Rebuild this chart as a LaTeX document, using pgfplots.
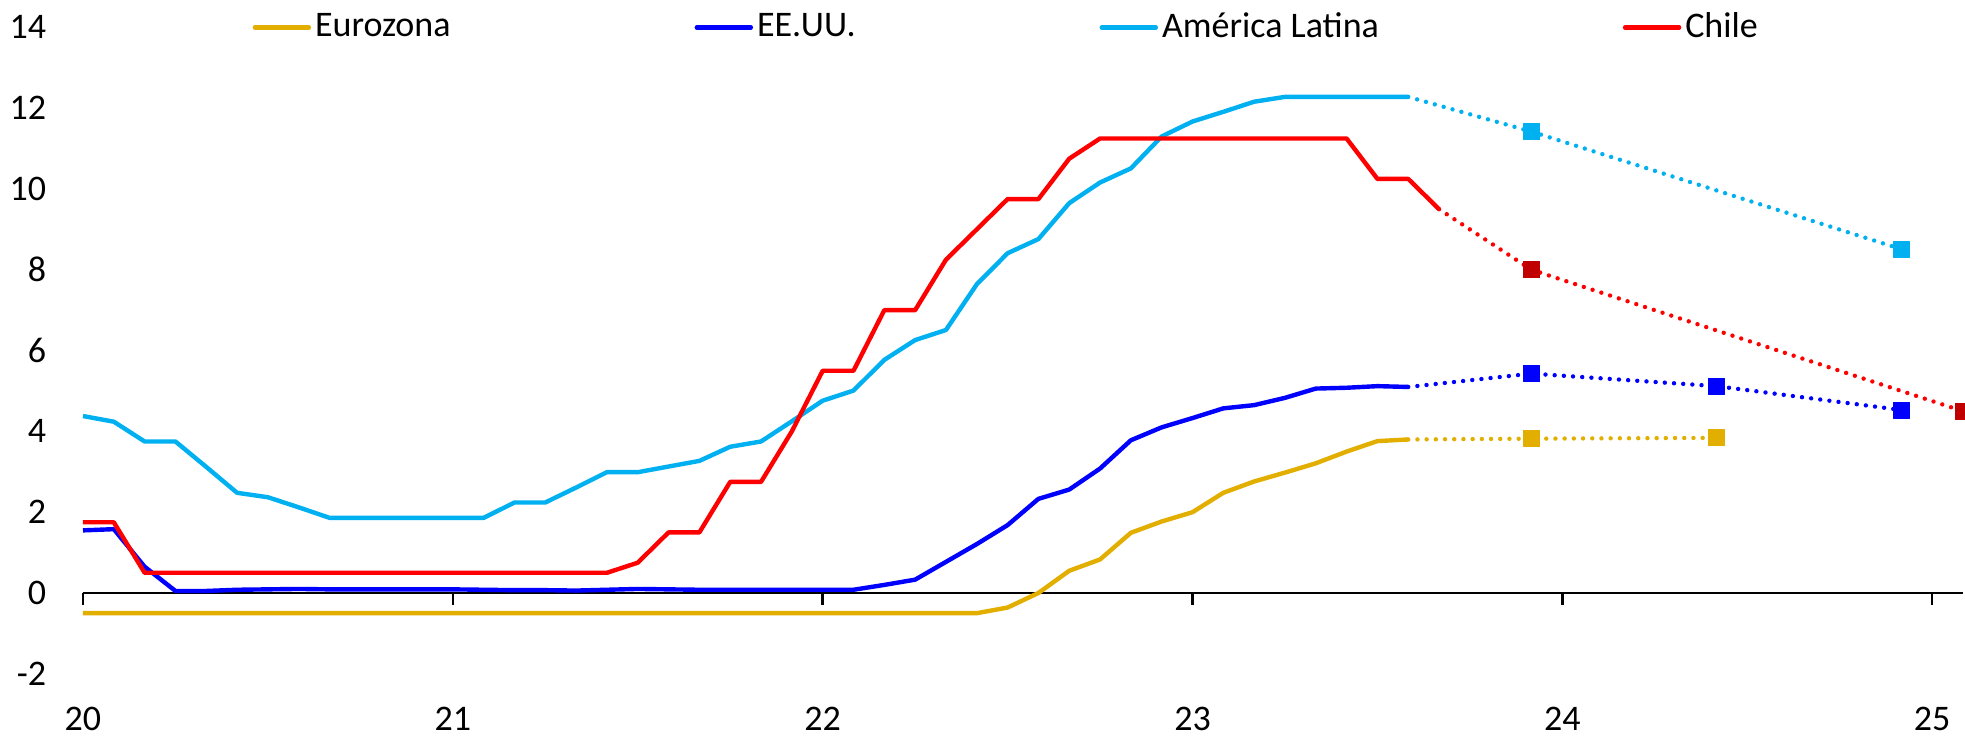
\documentclass[border=0pt]{standalone}
\usepackage{pgfplots}
\pgfplotsset{compat=1.18}
\usepackage{fontspec}
\setmainfont{Carlito}

\definecolor{euro}{RGB}{226,174,0}
\definecolor{usa}{RGB}{0,0,255}
\definecolor{latam}{RGB}{0,176,240}
\definecolor{chile}{RGB}{255,0,0}
\definecolor{chilemk}{RGB}{192,0,0}

% Monthly policy rates (x = months since Jan 2020)
\pgfplotstableread{
k v
0 -0.5
29 -0.5
30 -0.36
31 0.0
32 0.55
33 0.83
34 1.49
35 1.77
36 2.0
37 2.48
38 2.76
39 2.98
40 3.21
41 3.5
42 3.76
43 3.8
}\euro
\pgfplotstableread{
k v
0 1.55
1 1.58
2 0.65
3 0.05
4 0.05
5 0.08
6 0.09
7 0.10
8 0.09
9 0.09
10 0.09
11 0.09
12 0.09
13 0.08
14 0.07
15 0.07
16 0.06
17 0.08
18 0.10
19 0.09
20 0.08
21 0.08
22 0.08
23 0.08
24 0.08
25 0.08
26 0.20
27 0.33
28 0.77
29 1.21
30 1.68
31 2.33
32 2.56
33 3.08
34 3.78
35 4.10
36 4.33
37 4.57
38 4.65
39 4.83
40 5.06
41 5.08
42 5.12
43 5.10
}\usa
\pgfplotstableread{
k v
0 4.38
1 4.24
2 3.75
3 3.75
4 3.12
5 2.48
6 2.37
7 2.12
8 1.86
9 1.86
10 1.86
11 1.86
12 1.86
13 1.86
14 2.24
15 2.24
16 2.61
17 2.99
18 2.99
19 3.13
20 3.27
21 3.62
22 3.75
23 4.25
24 4.76
25 5.01
26 5.77
27 6.26
28 6.51
29 7.64
30 8.41
31 8.76
32 9.65
33 10.16
34 10.51
35 11.30
36 11.67
37 11.91
38 12.16
39 12.28
40 12.28
41 12.28
42 12.28
43 12.28
}\latam
\pgfplotstableread{
k v
0 1.75
1 1.75
2 0.5
17 0.5
18 0.75
19 1.5
20 1.5
21 2.75
22 2.75
23 4.0
24 5.5
25 5.5
26 7.0
27 7.0
28 8.25
29 9.0
30 9.75
31 9.75
32 10.75
33 11.25
41 11.25
42 10.25
43 10.25
44 9.5
}\chile

\begin{document}
\fontsize{9}{11}\selectfont
\begin{tikzpicture}[
  fc/.style={line width=1.1pt, line cap=round, dash pattern=on 0pt off 2.3pt},
  mk/.style={only marks, mark=square*, mark size=2pt, mark options={solid, line width=0.2pt}},
  zl/.style={black, line width=0.6pt},
]
\begin{axis}[
  scale only axis,
  width=470pt, height=168.67pt,
  xmin=0, xmax=61, ymin=-2.7, ymax=14,
  axis x line*=bottom, axis y line*=left,
  axis line style={draw=none},
  major tick length=0pt,
  xtick={0,12,24,36,48,60},
  xticklabels={20,21,22,23,24,25},
  xticklabel style={yshift=2pt},
  ytick={-2,0,2,4,6,8,10,12,14},
  yticklabel style={xshift=-6pt},
  /pgf/number format/assume math mode=true,
  clip=false,
  legend columns=4,
  legend cell align=left,
  legend style={draw=none, fill=none, at={(axis cs:5.48,14)}, anchor=west,
    inner sep=0pt, nodes={inner sep=1pt},
    /tikz/every even column/.append style={column sep=60pt}},
  legend image code/.code={\draw[#1, line cap=round, line width=1.1pt] (0pt,0pt) -- (13.5pt,0pt);},
  every axis plot/.append style={line width=1.1pt, line join=round},
]
% zero line with year ticks
\draw[zl] (axis cs:0,0) -- (axis cs:61,0);
\draw[zl] (axis cs:0,0) -- (axis cs:0,-0.3);
\draw[zl] (axis cs:12,0) -- (axis cs:12,-0.3);
\draw[zl] (axis cs:24,0) -- (axis cs:24,-0.3);
\draw[zl] (axis cs:36,0) -- (axis cs:36,-0.3);
\draw[zl] (axis cs:48,0) -- (axis cs:48,-0.3);
\draw[zl] (axis cs:60,0) -- (axis cs:60,-0.3);

\addplot[euro] table[x=k, y=v] {\euro};
\addlegendentry{Eurozona}
\addplot[usa] table[x=k, y=v] {\usa};
\addlegendentry{EE.UU.}
\addplot[latam] table[x=k, y=v] {\latam};
\addlegendentry{América Latina}
\addplot[chile] table[x=k, y=v] {\chile};
\addlegendentry{Chile}

% projections
\addplot[euro, fc, forget plot] coordinates {(43,3.8) (47,3.82) (53,3.84)};
\addplot[euro, mk, forget plot] coordinates {(47,3.82) (53,3.84)};
\addplot[usa, fc, forget plot] coordinates {(43,5.1) (47,5.43) (53,5.12) (59,4.53)};
\addplot[usa, mk, forget plot] coordinates {(47,5.43) (53,5.12) (59,4.53)};
\addplot[latam, fc, forget plot] coordinates {(43,12.28) (47,11.42) (59,8.51)};
\addplot[latam, mk, forget plot] coordinates {(47,11.42) (59,8.51)};
\addplot[chile, fc, forget plot] coordinates {(44,9.5) (47,8.0) (61,4.5)};
\addplot[chilemk, mk, forget plot] coordinates {(47,8.0) (61,4.5)};

\coordinate (bbSW) at (axis cs:-2.693,-3.639);
\coordinate (bbNE) at (axis cs:61.065,14.678);
\end{axis}
\pgfresetboundingbox
\path[use as bounding box] (bbSW) rectangle (bbNE);
\end{tikzpicture}
\end{document}
